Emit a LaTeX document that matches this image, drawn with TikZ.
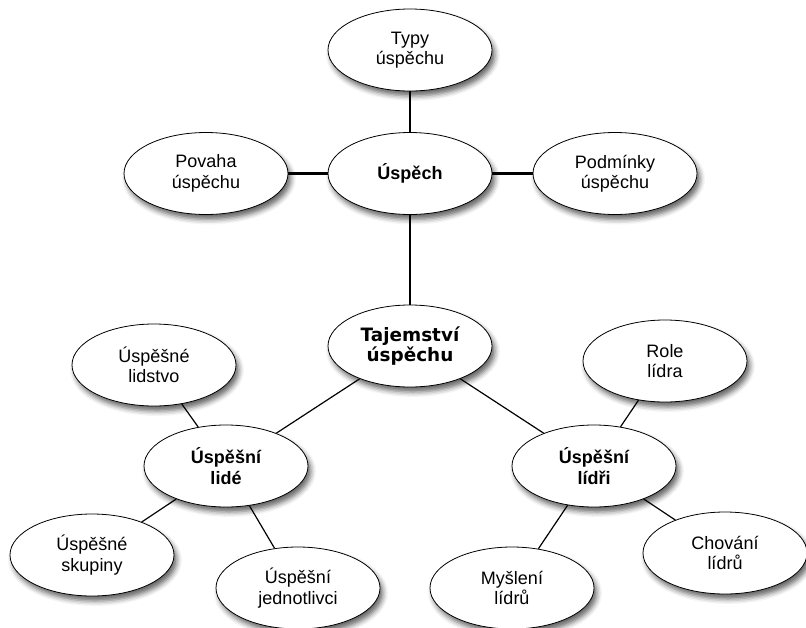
\documentclass[tikz,border=0pt]{standalone}
\usepackage{fontspec}
\setmainfont{Liberation Sans}
\newfontfamily\heavyfont{DejaVu Sans}
\usetikzlibrary{shapes.geometric,shadows.blur}
\tikzset{
  topic/.style={ellipse, draw, line width=0.8pt, fill=white, inner sep=0pt,
    minimum width=164pt, minimum height=82pt, align=center,
    blur shadow={shadow xshift=3pt, shadow yshift=-5pt, shadow blur radius=5pt, shadow opacity=60},
    font=\fontsize{18}{20.5}\selectfont},
  hub/.style={topic, font=\bfseries\fontsize{18}{20.5}\selectfont},
  core/.style={topic, font=\heavyfont\bfseries\fontsize{18.4}{20.5}\selectfont},
  mainlink/.style={line width=2.8pt},
  midlink/.style={line width=2pt},
  sublink/.style={line width=1.2pt}
}
\begin{document}
\begin{tikzpicture}[x=1pt,y=-1pt]
      \useasboundingbox (0,0) rectangle (806,627);
      \draw
        (410,50) node[topic] (typy){Typy\\úspěchu}
        (410,173.5) node[hub] (uspech){Úspěch}
        (206,173.5) node[topic] (povaha){Povaha\\úspěchu}
        (615,173.5) node[topic] (podminky){Podmínky\\úspěchu}
        (410,346) node[core] (tajemstvi){Tajemství\\úspěchu}
        (154,365) node[topic] (lidstvo){Úspěšné\\lidstvo}
        (226,466) node[hub] (lide){Úspěšní\\lidé}
        (594,466) node[hub] (lidri){Úspěšní\\lídři}
        (665,361) node[topic] (role){Role\\lídra}
        (92,555) node[topic] (skupiny){Úspěšné\\skupiny}
        (298,588) node[topic] (jednotlivci){Úspěšní\\jednotlivci}
        (512,588) node[topic] (mysleni){Myšlení\\lídrů}
        (725,553) node[topic] (chovani){Chování\\lídrů};
      \begin{scope}[mainlink]
        \draw (typy) to (uspech);
        \draw (povaha) to (uspech);
        \draw (uspech) to (podminky);
      \end{scope}
      \draw[midlink] (uspech) to (tajemstvi);
      \begin{scope}[sublink]
        \draw (tajemstvi) to (lide);
        \draw (tajemstvi) to (lidri);
        \draw (lidstvo) to (lide);
        \draw (lide) to (skupiny);
        \draw (lide) to (jednotlivci);
        \draw (role) to (lidri);
        \draw (lidri) to (mysleni);
        \draw (lidri) to (chovani);
      \end{scope}
    \end{tikzpicture}
\end{document}
